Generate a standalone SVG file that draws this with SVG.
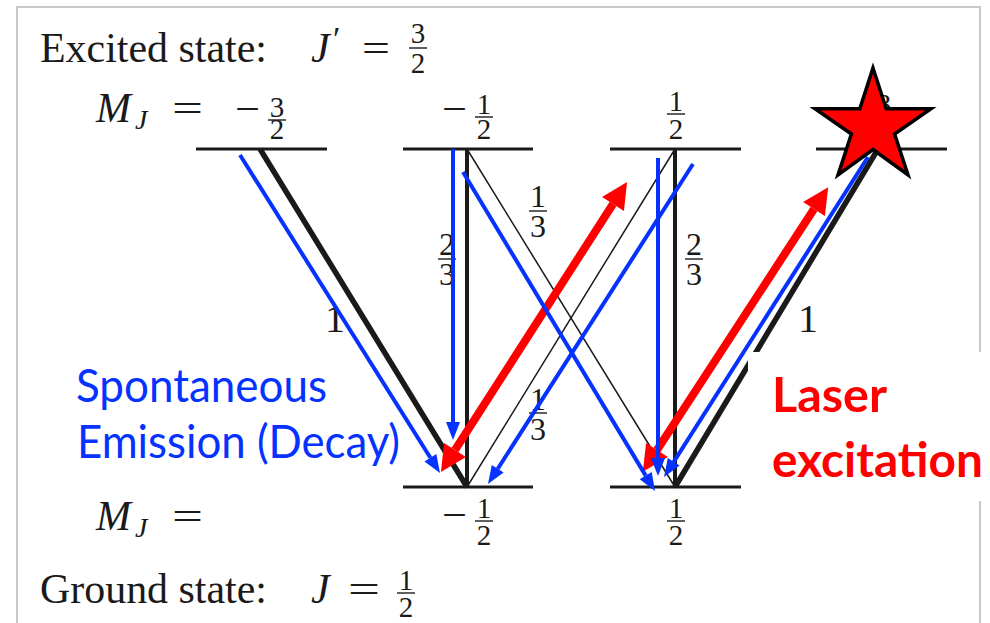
<svg xmlns="http://www.w3.org/2000/svg" width="990" height="623" viewBox="0 0 990 623">
<style>
.rm{font-family:"Liberation Serif",serif;fill:#1a1a1a}
.it{font-family:"Liberation Serif",serif;font-style:italic;fill:#1a1a1a}
.fr{font-family:"Liberation Serif",serif;fill:#1a1a1a;font-size:29px;text-anchor:middle}
.fw{font-family:"Liberation Serif",serif;fill:#1a1a1a;font-size:32px;text-anchor:middle}
.bar{stroke:#1a1a1a;stroke-width:1.4}
.lvl{stroke:#1a1a1a;stroke-width:3.2}
.thick{stroke:#1a1a1a;stroke-width:5.5}
.med{stroke:#1a1a1a;stroke-width:4}
.thin{stroke:#1a1a1a;stroke-width:1.5}
.blue{stroke:#0532ff;stroke-width:4;fill:none;marker-end:url(#bh)}
.red{stroke:#ff0000;stroke-width:8;fill:none;marker-end:url(#rh);marker-start:url(#rh)}
.sans{font-family:Lato,"Liberation Sans",sans-serif}
</style>
<defs>
<marker id="bh" markerUnits="userSpaceOnUse" markerWidth="20" markerHeight="16" refX="0" refY="8" orient="auto" overflow="visible">
<path d="M0,1 L18,8 L0,15 z" fill="#0532ff"/>
</marker>
<marker id="rh" markerUnits="userSpaceOnUse" markerWidth="28" markerHeight="28" refX="0" refY="13" orient="auto-start-reverse" overflow="visible">
<path d="M0,0 L26,13 L0,26 z" fill="#ff0000"/>
</marker>
</defs>
<rect x="0" y="0" width="990" height="623" fill="#fff"/>
<rect x="17" y="7" width="963" height="640" fill="#fff" stroke="#c8c8c8" stroke-width="2"/>

<g id="titles">
<text class="rm" x="40" y="62" font-size="42" textLength="227" lengthAdjust="spacingAndGlyphs">Excited state:</text>
<text class="it" x="311" y="62" font-size="42">J<tspan class="rm" x="333" y="50" font-size="34" font-style="normal">′</tspan></text>
<text class="rm" x="362" y="62" font-size="40" textLength="28" lengthAdjust="spacingAndGlyphs">=</text>
<text class="fr"><tspan x="418" y="43">3</tspan><tspan x="418" y="73">2</tspan></text><line class="bar" x1="409" y1="48" x2="427" y2="48"/>

<text class="it" x="96" y="122" font-size="42">M<tspan x="135" y="129" font-size="28">J</tspan></text>
<text class="rm" x="172" y="122" font-size="40" textLength="31" lengthAdjust="spacingAndGlyphs">=</text>

<text class="it" x="96" y="530" font-size="42">M<tspan x="135" y="537" font-size="28">J</tspan></text>
<text class="rm" x="172" y="530" font-size="40" textLength="31" lengthAdjust="spacingAndGlyphs">=</text>

<text class="rm" x="40" y="603" font-size="42" textLength="227" lengthAdjust="spacingAndGlyphs">Ground state:</text>
<text class="it" x="311" y="603" font-size="42">J</text>
<text class="rm" x="348" y="603" font-size="40" textLength="32" lengthAdjust="spacingAndGlyphs">=</text>
<text class="fr"><tspan x="406" y="590">1</tspan><tspan x="406" y="617">2</tspan></text><line class="bar" x1="397" y1="593" x2="415" y2="593"/>
</g>

<g id="excited_m3_2">
<line class="lvl" x1="196" y1="149" x2="327" y2="149"/>
<text class="rm" x="235" y="122" font-size="40" textLength="25" lengthAdjust="spacingAndGlyphs">−</text>
<text class="fr"><tspan x="277" y="117">3</tspan><tspan x="277" y="139">2</tspan></text><line class="bar" x1="268" y1="120" x2="286" y2="120"/>
</g>
<g id="excited_m1_2">
<line class="lvl" x1="403" y1="149" x2="533" y2="149"/>
<text class="rm" x="442" y="122" font-size="40" textLength="25" lengthAdjust="spacingAndGlyphs">−</text>
<text class="fr"><tspan x="484" y="114">1</tspan><tspan x="484" y="139">2</tspan></text><line class="bar" x1="475" y1="117" x2="493" y2="117"/>
</g>
<g id="excited_p1_2">
<line class="lvl" x1="610" y1="149" x2="741" y2="149"/>
<text class="fr"><tspan x="676" y="111">1</tspan><tspan x="676" y="139">2</tspan></text><line class="bar" x1="667" y1="114" x2="685" y2="114"/>
</g>
<g id="excited_p3_2">
<line class="lvl" x1="816" y1="149" x2="947" y2="149"/>
<text class="fr"><tspan x="884" y="114">3</tspan><tspan x="884" y="139">2</tspan></text><line class="bar" x1="875" y1="117" x2="893" y2="117"/>
</g>
<g id="ground_m1_2">
<line class="lvl" x1="403" y1="487" x2="533" y2="487"/>
<text class="rm" x="442" y="528" font-size="40" textLength="25" lengthAdjust="spacingAndGlyphs">−</text>
<text class="fr"><tspan x="484" y="518">1</tspan><tspan x="484" y="545">2</tspan></text><line class="bar" x1="475" y1="521" x2="493" y2="521"/>
</g>
<g id="ground_p1_2">
<line class="lvl" x1="610" y1="487" x2="741" y2="487"/>
<text class="fr"><tspan x="676" y="518">1</tspan><tspan x="676" y="545">2</tspan></text><line class="bar" x1="667" y1="521" x2="685" y2="521"/>
</g>

<g id="connectors">
<g id="transitions">
<line class="thick" x1="260" y1="149" x2="467" y2="487"/>
<line class="med" x1="467" y1="149" x2="467" y2="487"/>
<line class="thin" x1="467" y1="149" x2="675" y2="487"/>
<line class="thin" x1="467" y1="487" x2="675" y2="149"/>
<line class="med" x1="675" y1="149" x2="675" y2="487"/>
<line class="thick" x1="675" y1="487" x2="878" y2="149"/>
</g>
<g id="weights">
<text class="rm" x="335" y="332" font-size="40" text-anchor="middle">1</text>
<text class="rm" x="808" y="332" font-size="40" text-anchor="middle">1</text>
<text class="fw"><tspan x="447" y="255">2</tspan><tspan x="447" y="285">3</tspan></text><line class="bar" x1="438" y1="259" x2="456" y2="259"/>
<text class="fw"><tspan x="694" y="255">2</tspan><tspan x="694" y="285">3</tspan></text><line class="bar" x1="685" y1="259" x2="703" y2="259"/>
<text class="fw"><tspan x="538" y="207">1</tspan><tspan x="538" y="237">3</tspan></text><line class="bar" x1="529" y1="211" x2="547" y2="211"/>
<text class="fw"><tspan x="538" y="410">1</tspan><tspan x="538" y="440">3</tspan></text><line class="bar" x1="529" y1="413" x2="547" y2="413"/>
</g>
<g id="laser">
<line class="red" x1="455" y1="450" x2="613" y2="204"/>
<line class="red" x1="657" y1="450" x2="814" y2="209"/>
</g>
<g id="decay">
<line class="blue" x1="240" y1="155" x2="430.4" y2="457.8"/>
<line class="blue" x1="453" y1="149" x2="453" y2="422"/>
<line class="blue" x1="463" y1="172" x2="645.7" y2="475.6"/>
<line class="blue" x1="693" y1="164" x2="497.7" y2="468.8"/>
<line class="blue" x1="658" y1="158" x2="658" y2="458"/>
<line class="blue" x1="868" y1="157" x2="673.7" y2="461.8"/>
</g>
</g>

<g id="star">
<polygon points="873,68 886.2,108.8 931,108.8 894.6,134 908,175 873,149.5 838,175 851.4,134 815,108.8 859.8,108.8" fill="#ff0000" stroke="#000" stroke-width="3.5" stroke-linejoin="miter"/>
</g>

<g id="label_decay">
<text class="sans" x="76" y="402" font-size="46" fill="#0532ff" textLength="251" lengthAdjust="spacingAndGlyphs">Spontaneous</text>
<text class="sans" x="77" y="458" font-size="46" fill="#0532ff" textLength="323" lengthAdjust="spacingAndGlyphs">Emission (Decay)</text>
</g>
<g id="label_laser">
<rect x="748" y="352" width="242" height="149" fill="#fff"/>
<text class="sans" x="772" y="412" font-size="48" font-weight="bold" fill="#ff0000" textLength="115" lengthAdjust="spacingAndGlyphs">Laser</text>
<text class="sans" x="772" y="477" font-size="48" font-weight="bold" fill="#ff0000" textLength="211" lengthAdjust="spacingAndGlyphs">excitation</text>
</g>
</svg>
